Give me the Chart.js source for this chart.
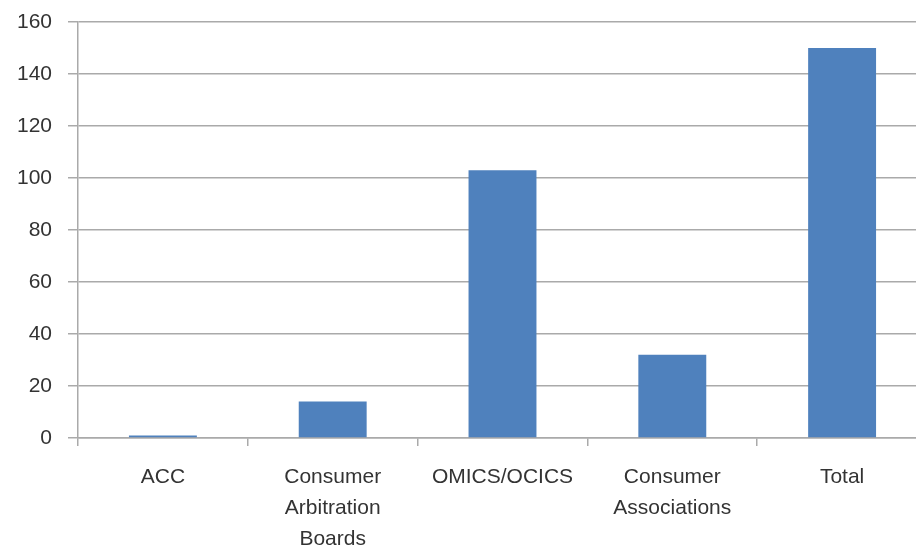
<!DOCTYPE html>
<html>
<head>
<meta charset="utf-8">
<script src="https://cdn.jsdelivr.net/npm/chart.js@4"></script>
<style>
  html, body { margin: 0; padding: 0; background: #fff; overflow: hidden; }
  #wrap { position: relative; width: 927px; height: 549px; }
</style>
</head>
<body>
<div id="wrap"><canvas id="c"></canvas></div>
<script>
const categories = [
  'ACC',
  ['Consumer', 'Arbitration', 'Boards'],
  'OMICS/OCICS',
  ['Consumer', 'Associations'],
  'Total'
];
const values = [1, 14, 103, 32, 150];
const yTicks = [0, 20, 40, 60, 80, 100, 120, 140, 160];

const gridColor = '#aaaaaa';
const textColor = '#333333';
const font = { family: '"Liberation Sans", Arial, sans-serif', size: 21, lineHeight: 1.48 };

new Chart(document.getElementById('c'), {
  type: 'bar',
  data: {
    labels: categories,
    datasets: [{
      data: values,
      backgroundColor: '#4F81BD',
      borderWidth: 0,
      categoryPercentage: 1.0,
      barPercentage: 0.4
    }]
  },
  options: {
    responsive: true,
    maintainAspectRatio: false,
    animation: false,
    layout: { padding: { top: 22, left: 0, right: 0, bottom: 0 } },
    plugins: { legend: { display: false }, tooltip: { enabled: false } },
    scales: {
      x: {
        grid: {
          offset: true,
          drawOnChartArea: false,
          drawTicks: true,
          tickLength: 8,
          color: gridColor,
          lineWidth: 1.5
        },
        border: { display: true, color: gridColor, width: 1.5 },
        ticks: { color: textColor, font: font, padding: 16, maxRotation: 0, autoSkip: false },
        afterFit: (s) => { s.height = 111; s.paddingLeft = 0; s.paddingRight = 0; }
      },
      y: {
        min: 0,
        max: 160,
        afterBuildTicks: (s) => { s.ticks = yTicks.map(v => ({ value: v })); },
        grid: {
          color: gridColor,
          lineWidth: 1.5,
          drawTicks: true,
          tickLength: 10
        },
        border: { display: true, color: gridColor, width: 1.5 },
        ticks: { color: textColor, font: font, padding: 16 },
        afterFit: (s) => { s.width = 78; s.paddingTop = 0; s.paddingBottom = 0; }
      }
    }
  }
});
</script>
</body>
</html>
